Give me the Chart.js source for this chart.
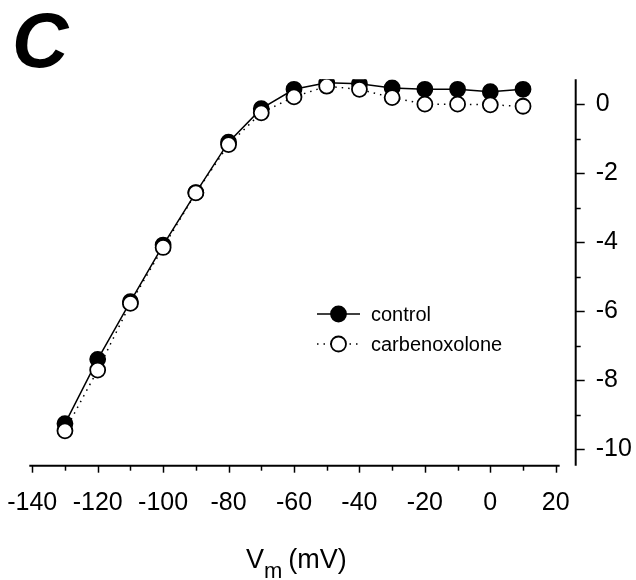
<!doctype html>
<html lang="en">
<head>
<meta charset="utf-8">
<title>I-V curve, control vs carbenoxolone</title>
<style>
  body { margin: 0; background: white; }
  #wrap { width: 636px; height: 580px; }
</style>
</head>
<body>
<div id="wrap"><canvas id="ivChart" width="636" height="580"></canvas></div>

<script src="https://cdn.jsdelivr.net/npm/chart.js"></script>
<script>
// data
const voltages = [-130, -120, -110, -100, -90, -80, -70, -60, -50, -40, -30, -20, -10, 0, 10];
const controlCurrent = [-9.25, -7.39, -5.72, -4.08, -2.56, -1.10, -0.13, 0.43, 0.62, 0.59, 0.47, 0.43, 0.43, 0.36, 0.43];
const cbxCurrent = [-9.46, -7.70, -5.77, -4.15, -2.57, -1.17, -0.25, 0.21, 0.52, 0.43, 0.19, 0.00, 0.00, -0.02, -0.06];
const seriesNames = ['control', 'carbenoxolone'];
const xTickValues = [-140, -120, -100, -80, -60, -40, -20, 0, 20];
const yTickValues = [0, -2, -4, -6, -8, -10];

const FONT = "'Liberation Sans', Arial, sans-serif";

function toPoints(ys) {
    return voltages.map((v, i) => ({ x: v, y: ys[i] }));
}

// axis lines, tick marks, panel letter, axis title and legend
const paperPlugin = {
    id: 'paperAxes',
    afterDraw(chart) {
        const { ctx, chartArea: a, scales: { x, y } } = chart;
        ctx.save();
        ctx.strokeStyle = '#000';
        ctx.fillStyle = '#000';

        // x axis
        ctx.lineWidth = 2;
        ctx.beginPath();
        ctx.moveTo(a.left, a.bottom);
        ctx.lineTo(x.getPixelForValue(21.2), a.bottom);
        ctx.stroke();
        ctx.lineWidth = 1.5;
        for (let v = -140; v <= 20; v += 10) {
            const px = Math.round(x.getPixelForValue(v)) + 0.5;
            const len = (v % 20 === 0) ? 7 : 5;
            ctx.beginPath();
            ctx.moveTo(px, a.bottom);
            ctx.lineTo(px, a.bottom + len);
            ctx.stroke();
        }

        // y axis (right side)
        ctx.lineWidth = 2;
        ctx.beginPath();
        ctx.moveTo(a.right, a.top);
        ctx.lineTo(a.right, a.bottom);
        ctx.stroke();
        ctx.lineWidth = 1.5;
        for (let v = 0; v >= -10; v -= 1) {
            const py = Math.round(y.getPixelForValue(v)) + 0.5;
            const len = (v % 2 === 0) ? 9 : 5;
            ctx.beginPath();
            ctx.moveTo(a.right, py);
            ctx.lineTo(a.right + len, py);
            ctx.stroke();
        }

        // panel letter
        ctx.font = 'italic bold 78px ' + FONT;
        ctx.textBaseline = 'alphabetic';
        ctx.textAlign = 'left';
        ctx.fillText('C', 12, 67);

        // x axis title  V_m (mV)
        ctx.font = '27px ' + FONT;
        let tx = 246;
        ctx.fillText('V', tx, 568);
        tx += ctx.measureText('V').width;
        ctx.font = '22px ' + FONT;
        ctx.fillText('m', tx, 578);
        tx += ctx.measureText('m').width + 6;
        ctx.font = '27px ' + FONT;
        ctx.fillText('(mV)', tx, 568);

        // legend
        const ds = chart.data.datasets;
        const rows = [{ d: ds[0], cy: 314 }, { d: ds[1], cy: 344 }];
        rows.forEach(r => {
            ctx.save();
            ctx.lineWidth = r.d.borderWidth;
            ctx.strokeStyle = r.d.borderColor;
            ctx.setLineDash(r.d.borderDash || []);
            ctx.beginPath();
            ctx.moveTo(317, r.cy);
            ctx.lineTo(360, r.cy);
            ctx.stroke();
            ctx.restore();
            ctx.beginPath();
            ctx.arc(338.5, r.cy, r.d.pointRadius, 0, Math.PI * 2);
            ctx.fillStyle = r.d.pointBackgroundColor;
            ctx.fill();
            ctx.lineWidth = r.d.pointBorderWidth;
            ctx.strokeStyle = r.d.pointBorderColor;
            ctx.stroke();
            ctx.fillStyle = '#000';
            ctx.font = '20px ' + FONT;
            ctx.fillText(r.d.label, 371, r.cy + 7);
        });

        ctx.restore();
    }
};

const config = {
    type: 'scatter',
    data: {
        datasets: [{
            label: seriesNames[0],
            data: toPoints(controlCurrent),
            showLine: true,
            borderColor: '#000',
            borderWidth: 1.5,
            pointRadius: 7.5,
            pointBorderWidth: 1.8,
            pointBackgroundColor: '#000',
            pointBorderColor: '#000',
            order: 2
        }, {
            label: seriesNames[1],
            data: toPoints(cbxCurrent),
            showLine: true,
            borderColor: '#000',
            borderWidth: 1.5,
            borderDash: [1.5, 5],
            pointRadius: 7.5,
            pointBorderWidth: 1.8,
            pointBackgroundColor: '#fff',
            pointBorderColor: '#000',
            order: 1
        }]
    },
    options: {
        responsive: false,
        animation: false,
        events: [],
        layout: { padding: { left: 29.3, top: 79.3, right: 0, bottom: 0 } },
        plugins: {
            legend: { display: false },
            tooltip: { enabled: false }
        },
        scales: {
            x: {
                type: 'linear',
                min: -140.9,
                max: 26.1,
                afterBuildTicks: (scale) => { scale.ticks = xTickValues.map(v => ({ value: v })); },
                afterFit: (scale) => {
                    scale.height = 580 - 465.7;
                    scale.paddingLeft = 0;
                    scale.paddingRight = 0;
                },
                grid: { display: false, drawTicks: false },
                border: { display: false },
                ticks: {
                    color: '#000',
                    padding: 22,
                    maxRotation: 0,
                    font: { family: FONT, size: 25 }
                }
            },
            y: {
                type: 'linear',
                position: 'right',
                min: -10.47,
                max: 0.72,
                afterBuildTicks: (scale) => { scale.ticks = yTickValues.map(v => ({ value: v })); },
                afterFit: (scale) => {
                    scale.width = 636 - 575.7;
                    scale.paddingTop = 0;
                    scale.paddingBottom = 0;
                },
                grid: { display: false, drawTicks: false },
                border: { display: false },
                ticks: {
                    color: '#000',
                    padding: 20,
                    font: { family: FONT, size: 25 }
                }
            }
        }
    },
    plugins: [paperPlugin]
};

const ivChart = new Chart(document.getElementById('ivChart'), config);
</script>
</body>
</html>
